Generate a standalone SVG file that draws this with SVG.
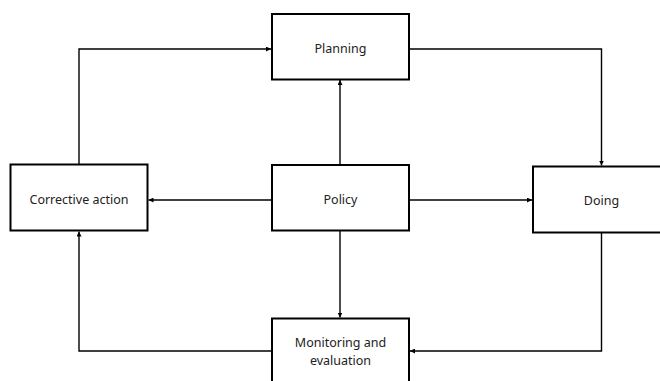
<svg xmlns="http://www.w3.org/2000/svg" width="660" height="381" viewBox="0 0 660 381">
<style>
.box{fill:#fff;stroke:#000;stroke-width:2}
.lbl{font-family:"Noto Sans","Open Sans",sans-serif;font-size:12.5px;fill:#222;text-anchor:middle}
.con{fill:none;stroke:#000;stroke-width:1.4;marker-end:url(#ah)}
</style>
<defs>
<marker id="ah" viewBox="0 0 10 10" refX="10" refY="5" markerWidth="5" markerHeight="5" markerUnits="userSpaceOnUse" orient="auto">
<path d="M0,0 L10,5 L0,10 z" fill="#000"/>
</marker>
</defs>
<rect width="660" height="381" fill="#fff"/>
<g id="connectors">
<path class="con" d="M79,164.5 V49 H271"/>
<path class="con" d="M409,49 H601.5 V165.5"/>
<path class="con" d="M340,165 V80"/>
<path class="con" d="M272,200 H148.5"/>
<path class="con" d="M409,200 H532"/>
<path class="con" d="M340,230.5 V317.5"/>
<path class="con" d="M601.5,232.5 V351 H410"/>
<path class="con" d="M272,351 H79 V231.5"/>
</g>
<g id="planning">
<rect class="box" x="272" y="14" width="137" height="65.5"/>
<text class="lbl" x="340.5" y="53">Planning</text>
</g>
<g id="corrective">
<rect class="box" x="10.5" y="164.5" width="137" height="66"/>
<text class="lbl" x="79" y="204">Corrective action</text>
</g>
<g id="policy">
<rect class="box" x="272" y="165" width="137" height="65.5"/>
<text class="lbl" x="340.5" y="204">Policy</text>
</g>
<g id="doing">
<rect class="box" x="533" y="166.5" width="140" height="66"/>
<text class="lbl" x="601.5" y="205">Doing</text>
</g>
<g id="monitoring">
<rect class="box" x="272" y="318.5" width="137" height="70"/>
<text class="lbl" x="340.5" y="347">Monitoring and</text>
<text class="lbl" x="340.5" y="365">evaluation</text>
</g>
</svg>
